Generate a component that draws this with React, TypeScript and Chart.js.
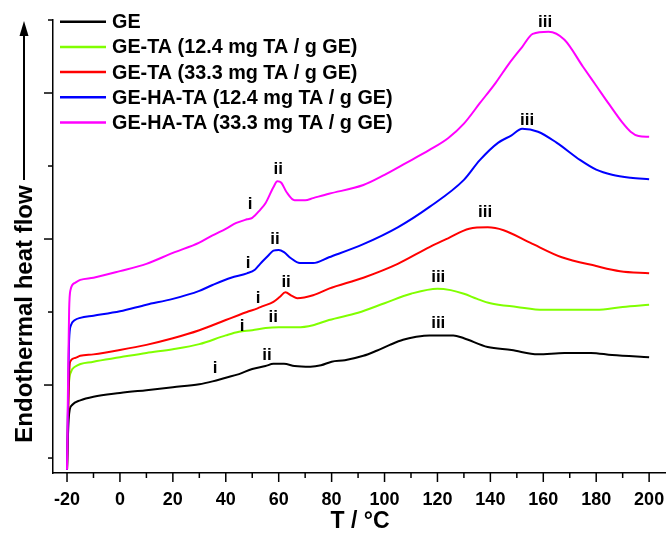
import React, { useEffect, useRef } from "react";
import { Chart, registerables } from "chart.js";

Chart.register(...registerables);

const FONT = '"Liberation Sans", Arial, Helvetica, sans-serif';

const seriesLabels = [
  "GE",
  "GE-TA (12.4 mg TA / g GE)",
  "GE-TA (33.3 mg TA / g GE)",
  "GE-HA-TA (12.4 mg TA / g GE)",
  "GE-HA-TA (33.3 mg TA / g GE)",
];
const seriesColors = ["#000000", "#80ff00", "#ff0000", "#0000ff", "#ff00ff"];

// GE
const geT = [-20, -19.7, -19.4, -19, -18, -15, -10, 0, 10, 20, 30, 35, 40, 45, 50, 55, 58, 62, 66, 72, 76, 80, 85, 92, 97, 102, 107, 112, 117, 126, 130, 139, 148, 158, 168, 178, 186, 200];
const geV = [-0.16, 0.25, 0.52, 0.66, 0.73, 0.79, 0.84, 0.89, 0.93, 0.97, 1.01, 1.05, 1.1, 1.15, 1.22, 1.26, 1.29, 1.29, 1.26, 1.25, 1.27, 1.32, 1.34, 1.4, 1.47, 1.55, 1.62, 1.66, 1.68, 1.68, 1.64, 1.52, 1.48, 1.42, 1.44, 1.44, 1.41, 1.38];

// GE-TA 12.4
const gtaLowT = [-20, -19.7, -19.3, -18.5, -17, -10, 0, 10, 20, 30, 40, 45, 50, 55, 60, 67, 73, 79, 90, 100, 110, 120, 125, 130, 135, 140, 150, 160, 170, 180, 190, 200];
const gtaLowV = [-0.16, 0.52, 1.0, 1.18, 1.25, 1.32, 1.38, 1.44, 1.49, 1.56, 1.68, 1.73, 1.75, 1.78, 1.79, 1.79, 1.82, 1.89, 1.99, 2.12, 2.25, 2.32, 2.3, 2.25, 2.18, 2.12, 2.07, 2.03, 2.03, 2.03, 2.07, 2.1];

// GE-TA 33.3
const gtaHighT = [-20, -19.6, -19.2, -18.8, -17, -15, -10, 0, 10, 20, 30, 40, 45, 48, 52, 54, 58, 60.5, 62.5, 65, 67, 73, 79, 92, 105, 117, 124, 132, 139, 145, 155, 167, 180, 189, 200];
const gtaHighV = [-0.16, 0.52, 1.14, 1.32, 1.37, 1.4, 1.42, 1.48, 1.55, 1.64, 1.75, 1.89, 1.96, 2.0, 2.05, 2.08, 2.14, 2.21, 2.27, 2.22, 2.19, 2.23, 2.32, 2.47, 2.66, 2.89, 3.01, 3.14, 3.16, 3.12, 2.95, 2.75, 2.63, 2.56, 2.53];

// GE-HA-TA 12.4
const ghtaLowT = [-20, -19.6, -19.2, -18.5, -17, -15, -10, 0, 10, 20, 30, 35, 42, 48, 51, 53, 56, 58, 60, 62, 64.5, 68, 73, 79, 92, 105, 117, 130, 136, 143, 148, 152, 158, 165, 174, 180, 186, 193, 200];
const ghtaLowV = [-0.16, 0.79, 1.62, 1.82, 1.89, 1.92, 1.95, 2.01, 2.1, 2.18, 2.29, 2.37, 2.47, 2.53, 2.58, 2.66, 2.77, 2.84, 2.85, 2.82, 2.74, 2.67, 2.67, 2.75, 2.93, 3.16, 3.44, 3.81, 4.08, 4.32, 4.42, 4.51, 4.47, 4.32, 4.08, 3.95, 3.88, 3.84, 3.82];

// GE-HA-TA 33.3
const ghtaHighT = [-20, -19.6, -19.2, -18.7, -17, -15, -10, 0, 10, 20, 30, 35, 40, 44, 48, 50, 53, 55, 58, 59.5, 61, 63, 66, 70, 73, 79, 92, 100, 107, 117, 124, 130, 136, 142, 147, 152, 156, 162, 168, 175, 180, 185, 190, 193, 196, 200];
const ghtaHighV = [-0.16, 1.07, 2.03, 2.3, 2.4, 2.44, 2.47, 2.56, 2.66, 2.81, 2.95, 3.05, 3.14, 3.22, 3.27, 3.29, 3.4, 3.49, 3.71, 3.79, 3.77, 3.64, 3.53, 3.53, 3.56, 3.62, 3.74, 3.88, 4.02, 4.22, 4.38, 4.58, 4.86, 5.14, 5.4, 5.63, 5.81, 5.84, 5.73, 5.36, 5.1, 4.84, 4.59, 4.47, 4.41, 4.4];

const seriesT = [geT, gtaLowT, gtaHighT, ghtaLowT, ghtaHighT];
const seriesV = [geV, gtaLowV, gtaHighV, ghtaLowV, ghtaHighV];

// Transition labels
const peakText = ["i", "ii", "iii", "i", "ii", "iii", "i", "ii", "iii", "i", "ii", "iii", "i", "ii", "iii"];
const peakT = [36, 55.6, 120.3, 46.2, 57.9, 120.3, 52.2, 62.8, 138, 48.4, 58.6, 153.9, 49.2, 59.8, 160.7];
const peakV = [1.23, 1.41, 1.85, 1.81, 1.93, 2.47, 2.19, 2.41, 3.37, 2.67, 3.0, 4.63, 3.47, 3.96, 5.97];

// Axes
const xTickValues = [-20, -10, 0, 10, 20, 30, 40, 50, 60, 70, 80, 90, 100, 110, 120, 130, 140, 150, 160, 170, 180, 190, 200];
const xLabelValues = [-20, 0, 20, 40, 60, 80, 100, 120, 140, 160, 180, 200];
const yTickValues = [0, 1, 2, 3, 4, 5, 6];
const yMajorValues = [1, 3, 5];

const xTitle = "T / °C";
const yTitle = "Endothermal heat flow";

const decorPlugin = {
  id: "decor",
  afterDraw(chart: any) {
    const ctx = chart.ctx as CanvasRenderingContext2D;
    const xs = chart.scales.x;
    const ys = chart.scales.y;
    const area = chart.chartArea;
    ctx.save();
    ctx.strokeStyle = "#000";
    ctx.fillStyle = "#000";
    ctx.lineWidth = 1.5;
    // x ticks
    xTickValues.forEach((v) => {
      const px = xs.getPixelForValue(v);
      const len = xLabelValues.includes(v) ? 9 : 5;
      ctx.beginPath();
      ctx.moveTo(px, area.bottom);
      ctx.lineTo(px, area.bottom + len);
      ctx.stroke();
    });
    // y ticks
    yTickValues.forEach((v) => {
      const py = ys.getPixelForValue(v);
      const len = yMajorValues.includes(v) ? 9 : 5;
      ctx.beginPath();
      ctx.moveTo(area.left, py);
      ctx.lineTo(area.left - len, py);
      ctx.stroke();
    });

    // legend
    const ds = chart.data.datasets;
    ctx.font = `bold 19.8px ${FONT}`;
    ctx.textAlign = "left";
    ctx.textBaseline = "middle";
    for (let i = 0; i < seriesLabels.length; i++) {
      const y = 21.7 + i * 25.2;
      ctx.strokeStyle = ds[i].borderColor;
      ctx.lineWidth = 2.5;
      ctx.beginPath();
      ctx.moveTo(60, y);
      ctx.lineTo(106, y);
      ctx.stroke();
      ctx.fillStyle = "#000";
      ctx.fillText(ds[i].label, 112, y + 1);
    }

    // peak labels
    ctx.font = `bold 17px ${FONT}`;
    ctx.textAlign = "center";
    ctx.textBaseline = "middle";
    ctx.fillStyle = "#000";
    peakText.forEach((t, i) => {
      ctx.fillText(t, xs.getPixelForValue(peakT[i]), ys.getPixelForValue(peakV[i]));
    });

    // y arrow
    ctx.strokeStyle = "#000";
    ctx.lineWidth = 2;
    ctx.beginPath();
    ctx.moveTo(24, 180);
    ctx.lineTo(24, 32);
    ctx.stroke();
    ctx.beginPath();
    ctx.moveTo(24, 21);
    ctx.lineTo(28.5, 36);
    ctx.lineTo(19.5, 36);
    ctx.closePath();
    ctx.fill();

    // y title
    ctx.save();
    ctx.translate(32, 314);
    ctx.rotate(-Math.PI / 2);
    ctx.font = `bold 24px ${FONT}`;
    ctx.textAlign = "center";
    ctx.textBaseline = "alphabetic";
    ctx.fillText(yTitle, 0, 0);
    ctx.restore();

    // x title
    ctx.font = `bold 23px ${FONT}`;
    ctx.textAlign = "center";
    ctx.textBaseline = "alphabetic";
    ctx.fillText(xTitle, (area.left + area.right) / 2 + 1, 528);

    ctx.restore();
  },
};

export default function App() {
  const ref = useRef<HTMLCanvasElement | null>(null);
  useEffect(() => {
    if (!ref.current) return;
    const datasets = seriesLabels.map((label, i) => ({
      label,
      data: seriesT[i].map((t, j) => ({ x: t, y: seriesV[i][j] })),
      borderColor: seriesColors[i],
      backgroundColor: seriesColors[i],
      borderWidth: 2,
      pointRadius: 0,
      fill: false,
      cubicInterpolationMode: "monotone" as const,
      borderJoinStyle: "round" as const,
      order: 4 - i,
    }));
    const chart = new Chart(ref.current, {
      type: "line",
      data: { datasets },
      options: {
        animation: false,
        responsive: false,
        devicePixelRatio: 1,
        layout: { padding: { top: 20, right: 5, left: 0, bottom: 0 } },
        plugins: { legend: { display: false }, tooltip: { enabled: false } },
        scales: {
          x: {
            type: "linear",
            min: -25.3,
            max: 206,
            afterBuildTicks: (s: any) => {
              s.ticks = xTickValues.map((v) => ({ value: v }));
            },
            afterFit: (s: any) => {
              s.height = 66;
              s.paddingLeft = 0;
              s.paddingRight = 0;
            },
            grid: { display: false, drawTicks: false },
            border: { display: true, color: "#000", width: 1.5 },
            ticks: {
              autoSkip: false,
              maxRotation: 0,
              padding: 16,
              color: "#000",
              font: { family: FONT, size: 18, weight: "bold" },
              callback: (v: any) => (xLabelValues.includes(Number(v)) ? String(v) : ""),
            },
          },
          y: {
            type: "linear",
            min: -0.205,
            max: 6,
            afterBuildTicks: (s: any) => {
              s.ticks = yTickValues.map((v) => ({ value: v }));
            },
            afterFit: (s: any) => {
              s.width = 53;
              s.paddingTop = 0;
              s.paddingBottom = 0;
            },
            grid: { display: false, drawTicks: false },
            border: { display: true, color: "#000", width: 1.5 },
            ticks: { display: false },
          },
        },
      },
      plugins: [decorPlugin],
    });
    return () => chart.destroy();
  }, []);
  return (
    <div style={{ position: "absolute", left: 0, top: 0, width: 670, height: 539, background: "#fff" }}>
      <canvas ref={ref} width={670} height={539} style={{ display: "block" }} />
    </div>
  );
}
